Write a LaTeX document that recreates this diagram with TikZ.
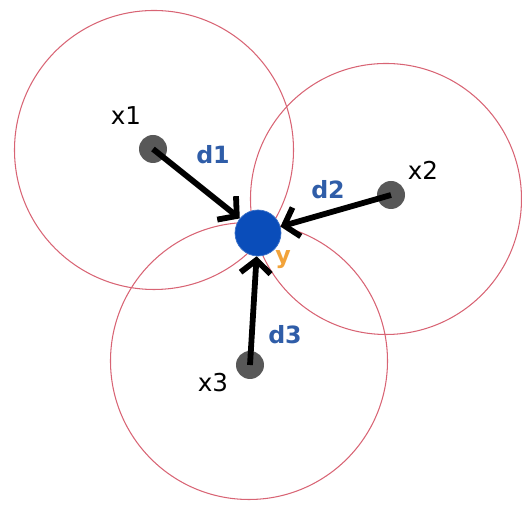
\documentclass[tikz,border=0pt]{standalone}
\usepackage{fontspec}
\setmainfont{DejaVu Sans}
\usetikzlibrary{arrows.meta}
\definecolor{ring}{HTML}{D86474}
\definecolor{target}{HTML}{0A4DBA}
\definecolor{pt}{HTML}{585858}
\definecolor{dist}{HTML}{2F5DA8}
\definecolor{amber}{HTML}{F2A33A}
\tikzset{ptdot/.style={circle,fill=pt,inner sep=0pt,minimum size=5.6mm},
ydot/.style={circle,fill=target,draw=target!80!white,inner sep=0pt,minimum size=9.2mm},
pull/.style={-{Straight Barb[length=2.6mm,width=6mm]},line width=3.3pt,black},
circ/.style={draw=ring,line width=.6pt},
xlab/.style={font=\fontsize{14}{16}\selectfont,text=black},
dlab/.style={font=\fontsize{13.5}{16}\selectfont\bfseries,text=dist}}
\begin{document}
\begin{tikzpicture}[x=1cm,y=1cm]
\useasboundingbox (0,0) rectangle (10.44,10.14);
\draw[circ] (3.08,7.14) circle (2.79);
\draw[circ] (7.72,6.16) circle (2.71);
\draw[circ] (4.98,2.92) circle (2.77);
\node[ydot] (y) at (5.16,5.48) {};
\foreach \n/\px/\py in {1/3.06/7.16,2/7.82/6.24,3/5.00/2.84}{
  \node[ptdot] (x\n) at (\px,\py) {};
  \draw[pull] (x\n.center) -- (y);
}
\node[xlab] (lx1) at (2.52,7.82) {x1};
\node[xlab] (lx2) at (8.46,6.74) {x2};
\node[xlab] (lx3) at (4.26,2.48) {x3};
\node[dlab] (ld1) at (4.26,7.04) {d1};
\node[dlab] (ld2) at (6.56,6.34) {d2};
\node[dlab] (ld3) at (5.70,3.44) {d3};
\node[dlab,text=amber] (ly) at (5.66,4.94) {y};
\end{tikzpicture}
\end{document}
